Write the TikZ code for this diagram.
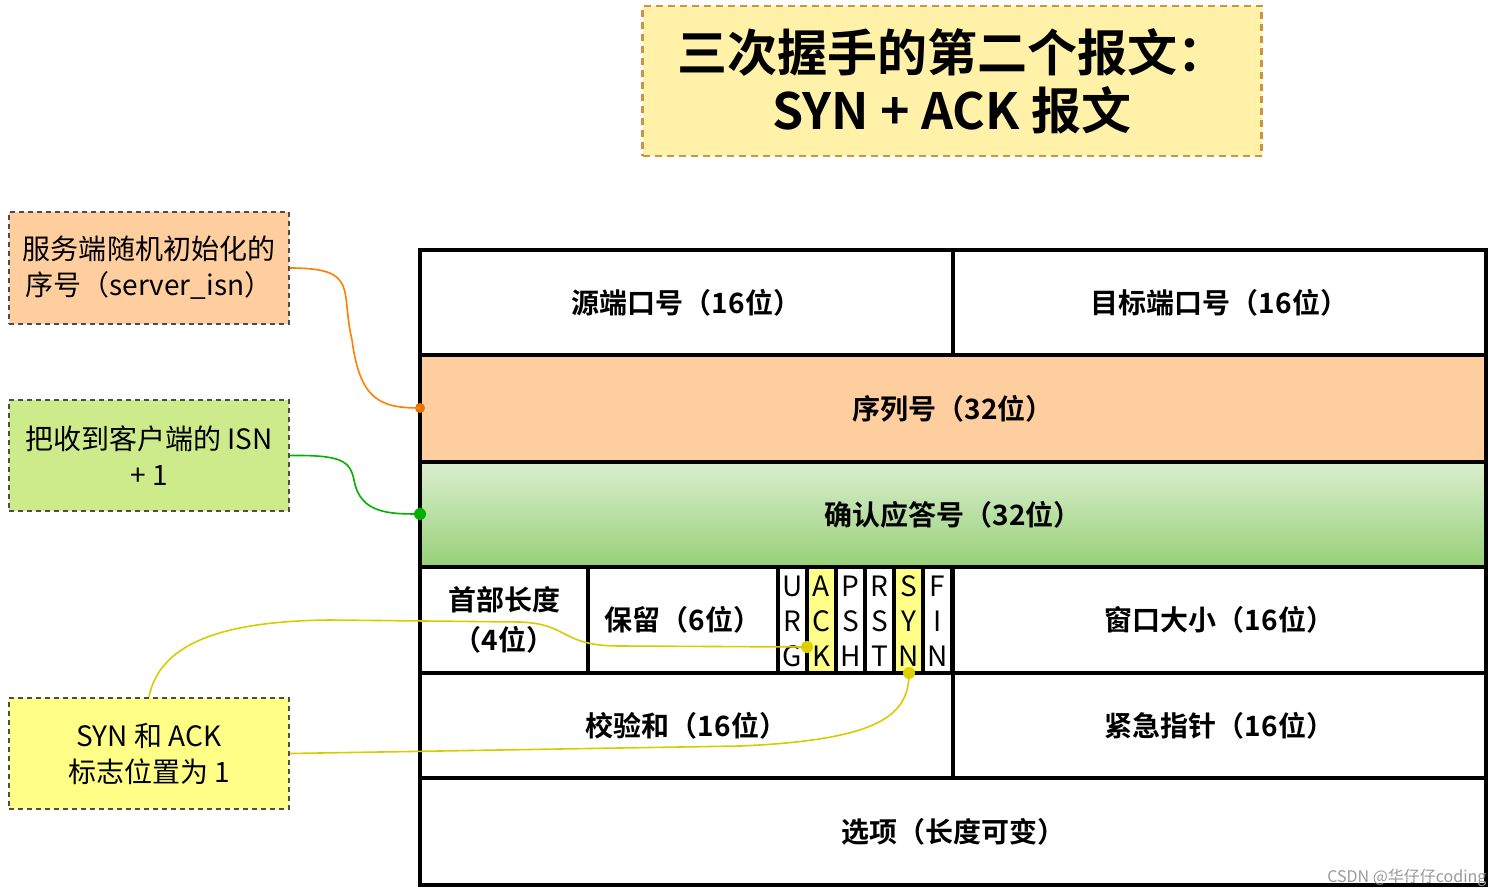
\documentclass[tikz,border=0pt]{standalone}
\usepackage{fontspec}
\setmainfont{Noto Sans CJK SC}
\newfontfamily\cjkb{Noto Sans CJK SC Bold}
\begin{document}
\begin{tikzpicture}[x=1pt,y=-1pt,
  cell/.style={draw=black,line width=3.2pt},
  lbl/.style={font=\cjkb\fontsize{28}{32}\selectfont},
  note/.style={draw=black!70,dash pattern=on 5pt off 4pt,line width=1.8pt},
  ntxt/.style={font=\fontsize{28}{36}\selectfont,align=center},
  flag/.style={font=\fontsize{28}{34}\selectfont},
  dotc/.style={circle,inner sep=0pt,minimum size=12pt}]
\useasboundingbox (0,0) rectangle (1496,893);
\definecolor{og}{HTML}{FFCE9F}\definecolor{gr}{HTML}{97D077}\definecolor{ngr}{HTML}{CDEB8B}
\definecolor{yl}{HTML}{FFFF88}\definecolor{tt}{HTML}{FFF2A8}
% title
\node[draw=tt!50!orange!80!black,dash pattern=on 7pt off 5pt,line width=2.2pt,fill=tt,minimum width=619pt,minimum height=150pt,
  font=\cjkb\fontsize{50}{58}\selectfont,align=center] (title) at (952,81) {三次握手的第二个报文：\\SYN + ACK 报文};
% table
\fill[white] (420,250) rectangle (1486,355);
\fill[og] (420,355) rectangle (1486,462);
\shade[top color=gr!35,bottom color=gr] (420,462) rectangle (1486,567);
\fill[yl] (807,567) rectangle (836,673);
\fill[yl] (894,567) rectangle (923,673);
\node[cell,minimum width=533pt,minimum height=105pt] (src) at (686.5,302.5) {};
\node[lbl] at (src) {源端口号（16位）};
\node[cell,minimum width=533pt,minimum height=105pt] (dst) at (1219.5,302.5) {};
\node[lbl] at (dst) {目标端口号（16位）};
\node[cell,minimum width=1066pt,minimum height=107pt] (seq) at (953,408.5) {};
\node[lbl] at (seq) {序列号（32位）};
\node[cell,minimum width=1066pt,minimum height=105pt] (ack) at (953,514.5) {};
\node[lbl] at (ack) {确认应答号（32位）};
\node[cell,minimum width=168pt,minimum height=106pt] (hl) at (504,620) {};
\node[lbl,align=center,font=\cjkb\fontsize{28}{40}\selectfont] at (hl) {首部长度\\（4位）};
\node[cell,minimum width=190pt,minimum height=106pt] (rsv) at (683,620) {};
\node[lbl] at (rsv) {保留（6位）};
\foreach \l/\a/\b/\c [count=\i from 0] in {u/U/R/G,a/A/C/K,p/P/S/H,r/R/S/T,s/S/Y/N,f/F/I/N}{
  \node[cell,minimum width=29pt,minimum height=106pt] (f\l) at (792.5+29*\i,620) {};
  \node[flag] at (792.5+29*\i,586) {\a};
  \node[flag] at (792.5+29*\i,621) {\b};
  \node[flag] at (792.5+29*\i,656) {\c};
}
\node[cell,minimum width=533pt,minimum height=106pt] (win) at (1219.5,620) {};
\node[lbl] at (win) {窗口大小（16位）};
\node[cell,minimum width=533pt,minimum height=105pt] (chk) at (686.5,725.5) {};
\node[lbl] at (chk) {校验和（16位）};
\node[cell,minimum width=533pt,minimum height=105pt] (urg) at (1219.5,725.5) {};
\node[lbl] at (urg) {紧急指针（16位）};
\node[cell,minimum width=1066pt,minimum height=107pt] (opt) at (953,831.5) {};
\node[lbl] at (opt) {选项（长度可变）};
% notes
\node[note,fill=og,minimum width=280pt,minimum height=112pt] (n1) at (149,268) {};
\node[ntxt] at (n1) {服务端随机初始化的\\序号（server\_isn）};
\node[note,fill=ngr,minimum width=280pt,minimum height=111pt] (n2) at (149,455.5) {};
\node[ntxt] at (n2) {把收到客户端的 ISN\\+ 1};
\node[note,fill=yl,minimum width=280pt,minimum height=111pt] (n3) at (149,753.5) {};
\node[ntxt] at (n3) {SYN 和 ACK\\标志位置为 1};
% connectors
\node[dotc,fill=orange!90!black,minimum size=10pt] (d1) at (420,408) {};
\node[dotc,fill=green!70!black] (d2) at (420,514) {};
\node[dotc,fill=yellow!70!olive] (d3) at (807,647) {};
\node[dotc,fill=yellow!70!olive] (d4) at (909,673) {};
\draw[orange,line width=1.6pt] (n1.east) .. controls (360,268) and (340,290) .. (352,340) .. controls (360,400) and (380,408) .. (d1.center);
\draw[green!70!black,line width=1.6pt] (n2.east) .. controls (340,455) and (350,460) .. (354,480) .. controls (360,514) and (390,514) .. (d2.center);
\draw[yellow!65!olive,line width=1.6pt] (n3.north) .. controls (160,640) and (230,621) .. (330,620) -- (520,622) .. controls (570,624) and (560,646) .. (620,646) -- (d3.center);
\draw[yellow!65!olive,line width=1.6pt] (n3.east) -- (740,746) .. controls (880,740) and (909,715) .. (d4.center);
\node[font=\fontsize{16}{18}\selectfont,text=black!40,anchor=south east] (wm) at (1490,890) {CSDN @华仔仔coding};
\end{tikzpicture}
\end{document}
